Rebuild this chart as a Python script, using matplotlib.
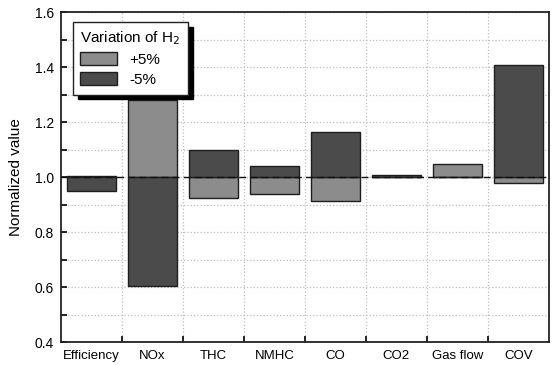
import numpy as np
import matplotlib
matplotlib.use('Agg')
import matplotlib.pyplot as plt
from matplotlib.ticker import MultipleLocator, FixedLocator

# Normalized emissions / performance for +/-5% hydrogen variation
categories = ['Efficiency', 'NOx', 'THC', 'NMHC', 'CO', 'CO2', 'Gas flow', 'COV']
plus5 = [1.005, 1.28, 0.925, 0.94, 0.914, 1.003, 1.047, 0.98]
minus5 = [0.95, 0.605, 1.10, 1.041, 1.164, 1.006, 0.999, 1.407]
baseline = 1.0

plt.rcParams['font.family'] = ['Liberation Sans', 'DejaVu Sans']

fig = plt.figure(figsize=(5.52, 3.65), dpi=100)
ax = fig.add_axes([0.110, 0.063, 0.8845, 0.904])

x = np.arange(len(categories))
light = '#8c8c8c'
dark = '#4b4b4b'
edge = '#1e1e1e'

ax.bar(x, np.array(plus5) - baseline, bottom=baseline, width=0.8,
       color=light, edgecolor=edge, linewidth=1.0, label='+5%', zorder=3)
ax.bar(x, np.array(minus5) - baseline, bottom=baseline, width=0.8,
       color=dark, edgecolor=edge, linewidth=1.0, label='-5%', zorder=3)

ax.axhline(baseline, color='#111111', linestyle=(0, (5, 3)), linewidth=1.0, zorder=4)

ax.set_xlim(-0.5, len(categories) - 0.5)
ax.set_ylim(0.4, 1.6)
ax.set_xticks(x)
ax.set_xticklabels(categories, fontsize=9.5)
ax.xaxis.set_minor_locator(FixedLocator(x[:-1] + 0.5))
ax.yaxis.set_major_locator(MultipleLocator(0.2))
ax.yaxis.set_minor_locator(MultipleLocator(0.1))
ax.set_yticklabels([f'{v:.1f}' for v in ax.get_yticks()], fontsize=10)
ax.set_ylabel('Normalized value', fontsize=11, labelpad=8)

ax.tick_params(axis='x', which='major', length=0, pad=6)
ax.tick_params(axis='x', which='minor', direction='in', length=4, width=1.2)
ax.tick_params(axis='y', which='both', direction='in', length=4, width=1.2, pad=5)

ax.grid(True, axis='y', which='both', color='#bdbdbd', linestyle=':', linewidth=0.9, zorder=0)
ax.grid(True, axis='x', which='minor', color='#bdbdbd', linestyle=':', linewidth=0.9, zorder=0)
ax.set_axisbelow(True)

for s in ax.spines.values():
    s.set_linewidth(1.3)
    s.set_color('#222222')

leg = ax.legend(title='Variation of H$_2$', loc='upper left',
                bbox_to_anchor=(0.009, 0.994), fontsize=11, title_fontsize=11,
                frameon=True, fancybox=False, edgecolor='#222222',
                shadow={'color': 'black', 'alpha': 1.0, 'ox': 3.5, 'oy': -3.5},
                handlelength=2.4, handleheight=0.9, borderpad=0.5,
                labelspacing=0.35, alignment='left')
leg.get_frame().set_linewidth(1.0)

fig.savefig('out.png', dpi=100)
